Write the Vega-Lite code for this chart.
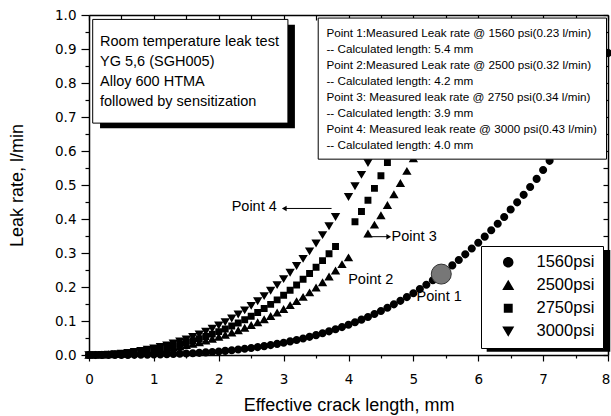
{
  "$schema": "https://vega.github.io/schema/vega-lite/v6.json",
  "width": 519,
  "height": 340,
  "autosize": {"type": "none"},
  "padding": {"left": 89, "top": 15, "right": 3, "bottom": 61},
  "background": "white",
  "config": {
    "view": {"stroke": null},
    "axis": {"grid": false, "domainColor": "black", "domainWidth": 1.5, "tickColor": "black", "tickWidth": 1.2, "labelColor": "black", "labelFont": "DejaVu Sans", "labelFontSize": 13.5, "titleColor": "black", "titleFont": "Liberation Sans", "titleFontSize": 18, "titleFontWeight": "normal"},
    "axisBottom": {"labelPadding": 11, "titlePadding": 11},
    "axisLeft": {"labelPadding": 5, "titlePadding": 28},
    "text": {"font": "Liberation Sans", "color": "black"}
  },
  "datasets": {
    "leak": [
      {"series":"1560psi","length":0,"rate":0},{"series":"1560psi","length":0.1,"rate":0},{"series":"1560psi","length":0.2,"rate":0},{"series":"1560psi","length":0.3,"rate":0},{"series":"1560psi","length":0.4,"rate":0.0001},{"series":"1560psi","length":0.5,"rate":0.0002},{"series":"1560psi","length":0.6,"rate":0.0003},{"series":"1560psi","length":0.7,"rate":0.0004},{"series":"1560psi","length":0.8,"rate":0.0007},{"series":"1560psi","length":0.9,"rate":0.0009},
      {"series":"1560psi","length":1.0,"rate":0.0013},{"series":"1560psi","length":1.1,"rate":0.0017},{"series":"1560psi","length":1.2,"rate":0.0022},{"series":"1560psi","length":1.3,"rate":0.0028},{"series":"1560psi","length":1.4,"rate":0.0035},{"series":"1560psi","length":1.5,"rate":0.0044},{"series":"1560psi","length":1.6,"rate":0.0053},{"series":"1560psi","length":1.7,"rate":0.0064},{"series":"1560psi","length":1.8,"rate":0.0076},{"series":"1560psi","length":1.9,"rate":0.0089},
      {"series":"1560psi","length":2.0,"rate":0.0104},{"series":"1560psi","length":2.1,"rate":0.0121},{"series":"1560psi","length":2.2,"rate":0.014},{"series":"1560psi","length":2.3,"rate":0.016},{"series":"1560psi","length":2.4,"rate":0.0182},{"series":"1560psi","length":2.5,"rate":0.0206},{"series":"1560psi","length":2.6,"rate":0.0233},{"series":"1560psi","length":2.7,"rate":0.0261},{"series":"1560psi","length":2.8,"rate":0.0292},{"series":"1560psi","length":2.9,"rate":0.0326},
      {"series":"1560psi","length":3.0,"rate":0.0362},{"series":"1560psi","length":3.1,"rate":0.04},{"series":"1560psi","length":3.2,"rate":0.0442},{"series":"1560psi","length":3.3,"rate":0.0486},{"series":"1560psi","length":3.4,"rate":0.0534},{"series":"1560psi","length":3.5,"rate":0.0584},{"series":"1560psi","length":3.6,"rate":0.0638},{"series":"1560psi","length":3.7,"rate":0.0696},{"series":"1560psi","length":3.8,"rate":0.0757},{"series":"1560psi","length":3.9,"rate":0.0821},
      {"series":"1560psi","length":4.0,"rate":0.089},{"series":"1560psi","length":4.1,"rate":0.0962},{"series":"1560psi","length":4.2,"rate":0.1039},{"series":"1560psi","length":4.3,"rate":0.1119},{"series":"1560psi","length":4.4,"rate":0.1205},{"series":"1560psi","length":4.5,"rate":0.1295},{"series":"1560psi","length":4.6,"rate":0.1389},{"series":"1560psi","length":4.7,"rate":0.1489},{"series":"1560psi","length":4.8,"rate":0.1593},{"series":"1560psi","length":4.9,"rate":0.1703},
      {"series":"1560psi","length":5.0,"rate":0.1818},{"series":"1560psi","length":5.1,"rate":0.1939},{"series":"1560psi","length":5.2,"rate":0.2066},{"series":"1560psi","length":5.3,"rate":0.2199},{"series":"1560psi","length":5.4,"rate":0.2338},{"series":"1560psi","length":5.5,"rate":0.2483},{"series":"1560psi","length":5.6,"rate":0.2635},{"series":"1560psi","length":5.7,"rate":0.2794},{"series":"1560psi","length":5.8,"rate":0.296},{"series":"1560psi","length":5.9,"rate":0.3133},
      {"series":"1560psi","length":6.0,"rate":0.33},{"series":"1560psi","length":6.1,"rate":0.348},{"series":"1560psi","length":6.2,"rate":0.367},{"series":"1560psi","length":6.3,"rate":0.386},{"series":"1560psi","length":6.4,"rate":0.406},{"series":"1560psi","length":6.5,"rate":0.428},{"series":"1560psi","length":6.6,"rate":0.449},{"series":"1560psi","length":6.7,"rate":0.471},{"series":"1560psi","length":6.8,"rate":0.494},{"series":"1560psi","length":6.9,"rate":0.518},
      {"series":"1560psi","length":7.0,"rate":0.544},{"series":"1560psi","length":7.1,"rate":0.571},{"series":"1560psi","length":7.2,"rate":0.6},{"series":"1560psi","length":7.3,"rate":0.631},{"series":"1560psi","length":7.4,"rate":0.663},{"series":"1560psi","length":7.5,"rate":0.697},{"series":"1560psi","length":7.6,"rate":0.733},{"series":"1560psi","length":7.7,"rate":0.77},{"series":"1560psi","length":7.8,"rate":0.808},{"series":"1560psi","length":7.9,"rate":0.847},{"series":"1560psi","length":8.0,"rate":0.888},

      {"series":"2500psi","length":0,"rate":0},{"series":"2500psi","length":0.1,"rate":0.0001},{"series":"2500psi","length":0.2,"rate":0.0005},{"series":"2500psi","length":0.3,"rate":0.0011},{"series":"2500psi","length":0.4,"rate":0.0019},{"series":"2500psi","length":0.5,"rate":0.003},{"series":"2500psi","length":0.6,"rate":0.0043},{"series":"2500psi","length":0.7,"rate":0.0058},{"series":"2500psi","length":0.8,"rate":0.0076},{"series":"2500psi","length":0.9,"rate":0.0097},
      {"series":"2500psi","length":1.0,"rate":0.0121},{"series":"2500psi","length":1.1,"rate":0.0147},{"series":"2500psi","length":1.2,"rate":0.0176},{"series":"2500psi","length":1.3,"rate":0.0208},{"series":"2500psi","length":1.4,"rate":0.0243},{"series":"2500psi","length":1.5,"rate":0.0282},{"series":"2500psi","length":1.6,"rate":0.0323},{"series":"2500psi","length":1.7,"rate":0.0368},{"series":"2500psi","length":1.8,"rate":0.0417},{"series":"2500psi","length":1.9,"rate":0.0469},
      {"series":"2500psi","length":2.0,"rate":0.0526},{"series":"2500psi","length":2.1,"rate":0.0586},{"series":"2500psi","length":2.2,"rate":0.0651},{"series":"2500psi","length":2.3,"rate":0.072},{"series":"2500psi","length":2.4,"rate":0.0793},{"series":"2500psi","length":2.5,"rate":0.0872},{"series":"2500psi","length":2.6,"rate":0.0955},{"series":"2500psi","length":2.7,"rate":0.1044},{"series":"2500psi","length":2.8,"rate":0.1139},{"series":"2500psi","length":2.9,"rate":0.1239},
      {"series":"2500psi","length":3.0,"rate":0.1345},{"series":"2500psi","length":3.1,"rate":0.1457},{"series":"2500psi","length":3.2,"rate":0.1576},{"series":"2500psi","length":3.3,"rate":0.1701},{"series":"2500psi","length":3.4,"rate":0.1834},{"series":"2500psi","length":3.5,"rate":0.1974},{"series":"2500psi","length":3.6,"rate":0.2132},{"series":"2500psi","length":3.7,"rate":0.2299},{"series":"2500psi","length":3.8,"rate":0.2477},{"series":"2500psi","length":3.9,"rate":0.2665},
      {"series":"2500psi","length":4.0,"rate":0.2863},{"series":"2500psi","length":4.3,"rate":0.3564},{"series":"2500psi","length":4.4,"rate":0.3825},{"series":"2500psi","length":4.5,"rate":0.4102},{"series":"2500psi","length":4.6,"rate":0.4401},{"series":"2500psi","length":4.7,"rate":0.4718},{"series":"2500psi","length":4.8,"rate":0.5052},{"series":"2500psi","length":4.9,"rate":0.5406},{"series":"2500psi","length":5.0,"rate":0.5779},{"series":"2500psi","length":5.1,"rate":0.6173},

      {"series":"2750psi","length":0,"rate":0},{"series":"2750psi","length":0.1,"rate":0.0002},{"series":"2750psi","length":0.2,"rate":0.0006},{"series":"2750psi","length":0.3,"rate":0.0014},{"series":"2750psi","length":0.4,"rate":0.0025},{"series":"2750psi","length":0.5,"rate":0.0039},{"series":"2750psi","length":0.6,"rate":0.0056},{"series":"2750psi","length":0.7,"rate":0.0076},{"series":"2750psi","length":0.8,"rate":0.01},{"series":"2750psi","length":0.9,"rate":0.0127},
      {"series":"2750psi","length":1.0,"rate":0.0158},{"series":"2750psi","length":1.1,"rate":0.0192},{"series":"2750psi","length":1.2,"rate":0.023},{"series":"2750psi","length":1.3,"rate":0.0272},{"series":"2750psi","length":1.4,"rate":0.0318},{"series":"2750psi","length":1.5,"rate":0.0368},{"series":"2750psi","length":1.6,"rate":0.0423},{"series":"2750psi","length":1.7,"rate":0.0482},{"series":"2750psi","length":1.8,"rate":0.0545},{"series":"2750psi","length":1.9,"rate":0.0614},
      {"series":"2750psi","length":2.0,"rate":0.0688},{"series":"2750psi","length":2.1,"rate":0.0767},{"series":"2750psi","length":2.2,"rate":0.0851},{"series":"2750psi","length":2.3,"rate":0.0942},{"series":"2750psi","length":2.4,"rate":0.1038},{"series":"2750psi","length":2.5,"rate":0.1141},{"series":"2750psi","length":2.6,"rate":0.125},{"series":"2750psi","length":2.7,"rate":0.1366},{"series":"2750psi","length":2.8,"rate":0.149},{"series":"2750psi","length":2.9,"rate":0.1621},
      {"series":"2750psi","length":3.0,"rate":0.1759},{"series":"2750psi","length":3.1,"rate":0.1906},{"series":"2750psi","length":3.2,"rate":0.2061},{"series":"2750psi","length":3.3,"rate":0.2226},{"series":"2750psi","length":3.4,"rate":0.2399},{"series":"2750psi","length":3.5,"rate":0.2582},{"series":"2750psi","length":3.6,"rate":0.2775},{"series":"2750psi","length":3.7,"rate":0.2978},{"series":"2750psi","length":3.8,"rate":0.3193},
      {"series":"2750psi","length":4.1,"rate":0.392},{"series":"2750psi","length":4.2,"rate":0.422},{"series":"2750psi","length":4.3,"rate":0.455},{"series":"2750psi","length":4.4,"rate":0.49},{"series":"2750psi","length":4.5,"rate":0.527},{"series":"2750psi","length":4.6,"rate":0.566},{"series":"2750psi","length":4.7,"rate":0.607},{"series":"2750psi","length":4.8,"rate":0.65},

      {"series":"3000psi","length":0,"rate":0},{"series":"3000psi","length":0.1,"rate":0.0002},{"series":"3000psi","length":0.2,"rate":0.0008},{"series":"3000psi","length":0.3,"rate":0.0018},{"series":"3000psi","length":0.4,"rate":0.0031},{"series":"3000psi","length":0.5,"rate":0.0049},{"series":"3000psi","length":0.6,"rate":0.0071},{"series":"3000psi","length":0.7,"rate":0.0097},{"series":"3000psi","length":0.8,"rate":0.0127},{"series":"3000psi","length":0.9,"rate":0.0162},
      {"series":"3000psi","length":1.0,"rate":0.0201},{"series":"3000psi","length":1.1,"rate":0.0245},{"series":"3000psi","length":1.2,"rate":0.0293},{"series":"3000psi","length":1.3,"rate":0.0347},{"series":"3000psi","length":1.4,"rate":0.0405},{"series":"3000psi","length":1.5,"rate":0.0469},{"series":"3000psi","length":1.6,"rate":0.0539},{"series":"3000psi","length":1.7,"rate":0.0614},{"series":"3000psi","length":1.8,"rate":0.0695},{"series":"3000psi","length":1.9,"rate":0.0782},
      {"series":"3000psi","length":2.0,"rate":0.0876},{"series":"3000psi","length":2.1,"rate":0.0977},{"series":"3000psi","length":2.2,"rate":0.1084},{"series":"3000psi","length":2.3,"rate":0.12},{"series":"3000psi","length":2.4,"rate":0.1322},{"series":"3000psi","length":2.5,"rate":0.1453},{"series":"3000psi","length":2.6,"rate":0.1592},{"series":"3000psi","length":2.7,"rate":0.174},{"series":"3000psi","length":2.8,"rate":0.1898},{"series":"3000psi","length":2.9,"rate":0.2064},
      {"series":"3000psi","length":3.0,"rate":0.2241},{"series":"3000psi","length":3.1,"rate":0.2428},{"series":"3000psi","length":3.2,"rate":0.2626},{"series":"3000psi","length":3.3,"rate":0.2835},{"series":"3000psi","length":3.4,"rate":0.3056},{"series":"3000psi","length":3.5,"rate":0.3289},{"series":"3000psi","length":3.6,"rate":0.3535},{"series":"3000psi","length":3.7,"rate":0.3794},{"series":"3000psi","length":3.8,"rate":0.4067},
      {"series":"3000psi","length":4.0,"rate":0.4656},{"series":"3000psi","length":4.1,"rate":0.4973},{"series":"3000psi","length":4.2,"rate":0.5307},{"series":"3000psi","length":4.3,"rate":0.5657},{"series":"3000psi","length":4.4,"rate":0.6024},{"series":"3000psi","length":4.5,"rate":0.6409},{"series":"3000psi","length":4.6,"rate":0.6813},{"series":"3000psi","length":4.7,"rate":0.7235}
    ]
  },
  "layer": [
    {
      "data": {"values": [{}]},
      "mark": {"type": "rect", "fill": "black"},
      "encoding": {
        "x": {"datum": 0.17, "type": "quantitative", "axis": null},
        "x2": {"datum": 3.174},
        "y": {"datum": 0.971, "type": "quantitative", "axis": null},
        "y2": {"datum": 0.667}
      }
    },
    {
      "data": {"values": [{}]},
      "mark": {"type": "rect", "fill": "black"},
      "encoding": {
        "x": {"datum": 6.13, "type": "quantitative", "axis": null},
        "x2": {"datum": 8.035},
        "y": {"datum": 0.0097, "type": "quantitative", "axis": null},
        "y2": {"datum": 0.309}
      }
    },
    {
      "data": {"values": [{}]},
      "mark": {"type": "text", "text": "Point 1", "align": "left", "baseline": "middle", "fontSize": 14.5},
      "encoding": {
        "x": {"datum": 5.05, "type": "quantitative", "axis": null},
        "y": {"datum": 0.171, "type": "quantitative", "axis": null}
      }
    },
    {
      "data": {"values": [{}]},
      "mark": {"type": "text", "text": "Point 2", "align": "left", "baseline": "middle", "fontSize": 14.5},
      "encoding": {
        "x": {"datum": 3.995, "type": "quantitative", "axis": null},
        "y": {"datum": 0.2206, "type": "quantitative", "axis": null}
      }
    },
    {
      "data": {"values": [{}]},
      "mark": {"type": "text", "text": "Point 3", "align": "left", "baseline": "middle", "fontSize": 14.5},
      "encoding": {
        "x": {"datum": 4.664, "type": "quantitative", "axis": null},
        "y": {"datum": 0.347, "type": "quantitative", "axis": null}
      }
    },
    {
      "data": {"values": [{}]},
      "mark": {"type": "text", "text": "Point 4", "align": "left", "baseline": "middle", "fontSize": 14.5},
      "encoding": {
        "x": {"datum": 2.199, "type": "quantitative", "axis": null},
        "y": {"datum": 0.434, "type": "quantitative", "axis": null}
      }
    },
    {
      "data": {"values": [{}]},
      "mark": {"type": "rule", "color": "black", "strokeWidth": 1},
      "encoding": {
        "x": {"datum": 2.993, "type": "quantitative", "axis": null},
        "x2": {"datum": 3.739},
        "y": {"datum": 0.431, "type": "quantitative", "axis": null}
      }
    },
    {
      "data": {"values": [{}]},
      "mark": {"type": "point", "shape": "triangle-left", "filled": true, "color": "black", "opacity": 1, "size": 30},
      "encoding": {
        "x": {"datum": 3.01, "type": "quantitative", "axis": null},
        "y": {"datum": 0.431, "type": "quantitative", "axis": null}
      }
    },
    {
      "data": {"values": [{}]},
      "mark": {"type": "rule", "color": "black", "strokeWidth": 1},
      "encoding": {
        "x": {"datum": 4.253, "type": "quantitative", "axis": null},
        "x2": {"datum": 4.62},
        "y": {"datum": 0.348, "type": "quantitative", "axis": null}
      }
    },
    {
      "data": {"values": [{}]},
      "mark": {"type": "point", "shape": "triangle-right", "filled": true, "color": "black", "opacity": 1, "size": 30},
      "encoding": {
        "x": {"datum": 4.62, "type": "quantitative", "axis": null},
        "y": {"datum": 0.348, "type": "quantitative", "axis": null}
      }
    },
    {
      "data": {"name": "leak"},
      "mark": {"type": "point", "filled": true, "color": "black", "stroke": "black", "strokeWidth": 1, "opacity": 0, "size": 66},
      "encoding": {
        "x": {"field": "length", "type": "quantitative", "axis": null},
        "y": {"field": "rate", "type": "quantitative", "axis": null},
        "shape": {
          "field": "series", "type": "nominal",
          "legend": {
            "title": null,
            "orient": "none",
            "legendX": 392,
            "legendY": 231,
            "fillColor": "white",
            "strokeColor": "black",
            "padding": 8,
            "symbolOffset": 11,
            "labelOffset": 20,
            "labelFont": "Liberation Sans",
            "labelFontSize": 16.5,
            "labelColor": "black",
            "rowPadding": 6,
            "symbolSize": 110,
            "symbolOpacity": 1,
            "symbolFillColor": "black",
            "symbolStrokeColor": "black",
            "symbolStrokeWidth": 1
          }
        }
      }
    },
    {
      "data": {"name": "leak"},
      "mark": {"type": "point", "filled": true, "color": "black", "opacity": 1, "size": 66},
      "encoding": {
        "x": {
          "field": "length", "type": "quantitative",
          "scale": {"domain": [0, 8], "nice": false, "zero": false},
          "axis": {
            "orient": "bottom",
            "values": [0,0.5,1,1.5,2,2.5,3,3.5,4,4.5,5,5.5,6,6.5,7,7.5,8],
            "labelExpr": "datum.value % 1 === 0 ? format(datum.value, 'd') : ''",
            "labelOffset": {"condition": {"test": "datum.value === 8", "value": -2.5}, "value": 0},
            "tickSize": {"condition": {"test": "datum.value % 1 !== 0", "value": 3}, "value": 6},
            "labelFlush": false,
            "title": "Effective crack length, mm"
          }
        },
        "y": {
          "field": "rate", "type": "quantitative",
          "scale": {"domain": [0, 1], "nice": false},
          "axis": {
            "orient": "left",
            "values": [0,0.05,0.1,0.15,0.2,0.25,0.3,0.35,0.4,0.45,0.5,0.55,0.6,0.65,0.7,0.75,0.8,0.85,0.9,0.95,1],
            "labelExpr": "round(datum.value*100) % 10 === 0 ? format(datum.value, '.1f') : ''",
            "tickSize": {"condition": {"test": "round(datum.value*100) % 10 !== 0", "value": 4}, "value": 8},
            "labelFlush": false,
            "title": "Leak rate, l/min"
          }
        },
        "shape": {
          "field": "series", "type": "nominal",
          "scale": {
            "domain": ["1560psi","2500psi","2750psi","3000psi"],
            "range": [
              "M-3.8,0H-1M1,0H3.8M1,0A1,1,0,1,1,-1,0A1,1,0,1,1,1,0Z",
              "M-3.8,0H-3M-2.5,0H-1.7M1.7,0H2.5M3,0H3.8M0,-1.05L1.15,0.9L-1.15,0.9Z",
              "M-3.8,0H-0.85M-0.85,-0.85H0.85V0.85H-0.85Z",
              "M-3.8,0H3.8M0,1.05L1.15,-0.9L-1.15,-0.9Z"
            ]
          }
        }
      }
    },
    {
      "data": {"values": [{}]},
      "mark": {"type": "point", "filled": true, "fill": "#777777", "stroke": "#333333", "strokeWidth": 1, "opacity": 1, "size": 400},
      "encoding": {
        "x": {"datum": 5.43, "type": "quantitative", "axis": null},
        "y": {"datum": 0.238, "type": "quantitative", "axis": null}
      }
    },
    {
      "data": {"values": [{}]},
      "mark": {"type": "rect", "fill": "white", "stroke": "black", "strokeWidth": 1},
      "encoding": {
        "x": {"datum": 0.057, "type": "quantitative", "axis": null},
        "x2": {"datum": 3.066},
        "y": {"datum": 0.987, "type": "quantitative", "axis": null},
        "y2": {"datum": 0.682}
      }
    },
    {
      "data": {"values": [{}]},
      "mark": {"type": "text", "text": ["Room temperature leak test", "YG 5,6 (SGH005)", "Alloy 600 HTMA", "followed by sensitization"], "align": "left", "baseline": "middle", "fontSize": 14.5, "lineHeight": 20},
      "encoding": {
        "x": {"datum": 0.17, "type": "quantitative", "axis": null},
        "y": {"datum": 0.9215, "type": "quantitative", "axis": null}
      }
    },
    {
      "data": {"values": [{}]},
      "mark": {"type": "rect", "fill": "white", "stroke": "black", "strokeWidth": 1},
      "encoding": {
        "x": {
          "datum": 3.533, "type": "quantitative",
          "axis": {"orient": "top", "values": [0,0.5,1,1.5,2,2.5,3,3.5,4,4.5,5,5.5,6,6.5,7,7.5,8], "labels": false, "tickSize": -5, "title": null, "grid": false}
        },
        "x2": {"datum": 7.977},
        "y": {
          "datum": 0.991, "type": "quantitative",
          "axis": {"orient": "right", "values": [0,0.05,0.1,0.15,0.2,0.25,0.3,0.35,0.4,0.45,0.5,0.55,0.6,0.65,0.7,0.75,0.8,0.85,0.9,0.95,1], "labels": false, "tickSize": -5, "title": null, "grid": false}
        },
        "y2": {"datum": 0.576}
      }
    },
    {
      "data": {"values": [{}]},
      "mark": {"type": "text", "text": ["Point 1:Measured Leak rate @ 1560 psi(0.23 l/min)", "-- Calculated length: 5.4 mm", "Point 2:Measured Leak rate @ 2500 psi(0.32 l/min)", "-- Calculated length: 4.2 mm", "Point 3: Measured leak rate @ 2750 psi(0.34 l/min)", "-- Calculated length: 3.9 mm", "Point 4: Measured leak reate @ 3000 psi(0.43 l/min)", "-- Calculated length: 4.0 mm"], "align": "left", "baseline": "middle", "fontSize": 11.7, "lineHeight": 15.9},
      "encoding": {
        "x": {"datum": 3.66, "type": "quantitative", "axis": null},
        "y": {"datum": 0.946, "type": "quantitative", "axis": null}
      }
    }
  ]
}
